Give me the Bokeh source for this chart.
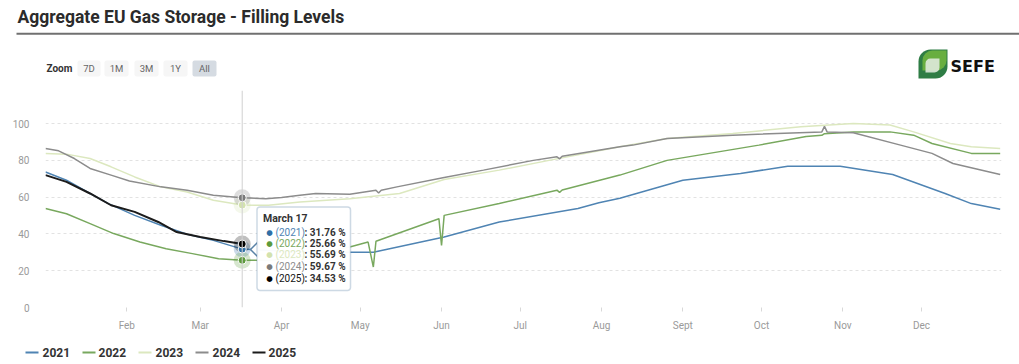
from bokeh.plotting import figure
from bokeh.layouts import column
from bokeh.models import Range1d, FixedTicker, Label, BoxAnnotation, Span
from bokeh.embed import file_html
from bokeh.resources import INLINE

# ---------------- data (day of year: 0 = Jan 1) ----------------
years = ["2021", "2022", "2023", "2024", "2025"]
line_colors = ["#4f84b3", "#78a85e", "#dce8bf", "#8c8c8c", "#1b1b1b"]
dot_colors = ["#2f6fa6", "#5c9a3c", "#d3e2ae", "#7a7a7a", "#000000"]

days_2021 = [0, 8, 17, 24, 34, 44, 54, 64, 75, 85, 97, 116, 125, 152, 173, 203,
             211, 219, 243, 265, 283, 303, 323, 343, 353, 364]
vals_2021 = [73.7, 69.2, 62.0, 56.5, 50.1, 44.7, 39.8, 36.5, 31.76, 31.0, 30.5, 30.1,
             30.1, 38.3, 46.5, 53.8, 57.0, 59.4, 69.2, 72.9, 76.8, 76.8, 72.3, 62.0,
             56.5, 53.4]

days_2022 = [0, 8, 17, 26, 36, 46, 56, 66, 75, 85, 97, 116, 123, 125, 126, 150, 151,
             152, 173, 195, 196, 197, 219, 237, 272, 290, 296, 297, 308, 322, 331, 338,
             353, 364]
vals_2022 = [53.8, 51.0, 45.6, 40.2, 35.6, 32.0, 29.3, 26.5, 25.66, 25.6, 27.5, 32.9,
             35.6, 22.0, 36.0, 48.3, 33.8, 50.1, 56.5, 63.8, 62.6, 63.9, 72.0, 80.0,
             88.3, 93.0, 93.6, 94.5, 95.5, 95.5, 93.7, 89.2, 83.8, 83.8]

days_2023 = [0, 8, 17, 25, 34, 44, 54, 64, 75, 85, 97, 116, 135, 152, 173, 192, 219,
             237, 262, 288, 308, 322, 331, 345, 353, 364]
vals_2023 = [83.7, 83.4, 81.0, 76.5, 71.0, 65.6, 62.8, 58.3, 55.69, 55.6, 57.4, 59.2,
             62.0, 69.6, 74.7, 80.0, 87.4, 91.9, 94.6, 98.3, 100.0, 99.2, 95.5, 89.2,
             87.4, 86.5]

days_2024 = [0, 5, 11, 17, 25, 32, 44, 54, 64, 75, 84, 90, 97, 103, 116, 126, 127, 128,
             134, 152, 167, 186, 195, 196, 197, 219, 224, 237, 262, 296, 297, 298, 308,
             326, 338, 346, 364]
vals_2024 = [86.5, 85.2, 81.0, 75.6, 72.0, 68.8, 65.6, 63.8, 61.0, 59.67, 59.2, 59.8,
             61.0, 62.0, 61.6, 63.8, 62.3, 63.8, 65.6, 70.7, 74.7, 80.0, 82.0, 80.8,
             82.2, 87.4, 88.3, 91.9, 93.7, 95.5, 98.5, 95.5, 95.0, 88.3, 83.8, 78.3, 72.3]

days_2025 = [0, 8, 17, 25, 34, 43, 50, 59, 68, 75]
vals_2025 = [72.0, 68.3, 62.0, 55.6, 52.0, 46.5, 41.0, 38.3, 36.1, 34.53]

series_days = [days_2021, days_2022, days_2023, days_2024, days_2025]
series_vals = [vals_2021, vals_2022, vals_2023, vals_2024, vals_2025]

month_ticks = [31, 59, 90, 120, 151, 181, 212, 243, 273, 304, 334]
month_labels = ["Feb", "Mar", "Apr", "May", "Jun", "Jul", "Aug", "Sept", "Oct", "Nov", "Dec"]
y_ticks = [0, 20, 40, 60, 80, 100]

hover_day = 75
hover_label = "March 17"
hover_values = [31.76, 25.66, 55.69, 59.67, 34.53]

title_text = "Aggregate EU Gas Storage - Filling Levels"
zoom_buttons = ["7D", "1M", "3M", "1Y", "All"]
logo_text = "SEFE"

# ---------------- layout (page pixels) ----------------
W = 1019
TOP_H = 86          # header strip: page y 0..86
MAIN_TOP, MAIN_BOT = 86, 342
L, R, T, B = 45, 1001, 90, 307   # plot frame in page pixels
X1, Y1 = 364.5, 118.0


def strip(h):
    f = figure(width=W, height=h, x_range=Range1d(0, W), y_range=Range1d(h, 0),
               output_backend="svg", toolbar_location=None, title=None,
               x_axis_location=None, y_axis_location=None, min_border=0)
    f.outline_line_color = None
    f.grid.visible = False
    f.frame_align = False
    return f


def label(f, x, y, text, size=10, color="#333333", bold=False, align="left", font="Roboto"):
    f.add_layout(Label(x=x, y=y, text=text, text_font=font,
                       text_font_size=f"{size}px", text_color=color,
                       text_font_style="bold" if bold else "normal",
                       text_align=align, text_baseline="middle"))


def box(f, x0, y0, x1, y1, color, radius=0, alpha=1.0, line_color=None, line_width=1):
    f.add_layout(BoxAnnotation(left=x0, right=x1, top=y0, bottom=y1,
                               fill_color=color, fill_alpha=alpha, line_color=line_color,
                               line_width=line_width, border_radius=radius))


# ---------------- header ----------------
top = strip(TOP_H)
label(top, 17, 16.5, title_text, size=17.5, bold=True, color="#2b2b2b")
top.line([16, W], [33.3, 33.3], line_color="#707070", line_width=2)
label(top, 46, 68, "Zoom", size=10, bold=True, color="#333333")
btn_x = [(77, 100), (104, 128), (134, 158), (163, 187), (192, 216)]
for (a, b), t in zip(btn_x, zoom_buttons):
    box(top, a, 60, b, 76, "#d5dbe2" if t == "All" else "#f6f6f6", radius=2)
    label(top, (a + b) / 2, 68, t, size=9.5, color="#666666", align="center")
box(top, 918, 49, 947, 78, "#2f7d45", radius=(12, 0, 12, 0))
box(top, 922, 50, 946, 70, "#7cbf3f", radius=(10, 0, 10, 0), alpha=0.75)
box(top, 925, 58, 939, 72, "#dfeadb", radius=(5, 0, 5, 0), alpha=0.9)
label(top, 950, 65.5, logo_text, size=16, bold=True, color="#111111", font="DejaVu Sans")

# ---------------- main chart ----------------
p = figure(width=W, height=MAIN_BOT - MAIN_TOP, x_range=Range1d(0, X1), y_range=Range1d(0, Y1),
           output_backend="svg", toolbar_location=None, title=None,
           min_border_left=L, min_border_right=W - R,
           min_border_top=T - MAIN_TOP, min_border_bottom=MAIN_BOT - B)
p.outline_line_color = None
p.frame_align = False


def dx(px):
    return (px - L) * X1 / (R - L)


def dy(py):
    return (B - py) * Y1 / (B - T)


p.yaxis.ticker = FixedTicker(ticks=y_ticks)
p.yaxis.axis_line_color = None
p.yaxis.major_tick_line_color = None
p.yaxis.minor_tick_line_color = None
p.yaxis.major_label_text_color = "#9a9a9a"
p.yaxis.major_label_text_font = "Roboto"
p.yaxis.major_label_text_font_size = "10px"
p.yaxis.major_label_standoff = 10

p.xaxis.ticker = FixedTicker(ticks=month_ticks)
p.xaxis.major_label_overrides = {t: l for t, l in zip(month_ticks, month_labels)}
p.xaxis.axis_line_color = None
p.xaxis.major_tick_line_color = "#d8d8d8"
p.xaxis.major_tick_in = 0
p.xaxis.major_tick_out = 4
p.xaxis.minor_tick_line_color = None
p.xaxis.major_label_text_color = "#9a9a9a"
p.xaxis.major_label_text_font = "Roboto"
p.xaxis.major_label_text_font_size = "10px"
p.xaxis.major_label_standoff = 8

p.xgrid.visible = False
p.ygrid.grid_line_color = "#e2e2e2"
p.ygrid.grid_line_dash = "3 3"

p.add_layout(Span(location=hover_day, dimension="height", line_color="#d0d0d0", line_width=1))

for i, (d, v) in enumerate(zip(series_days, series_vals)):
    p.line(d, v, line_color=line_colors[i], line_width=2.0 if i == 4 else 1.5)

for i, v in enumerate(hover_values):
    p.scatter([hover_day], [v], size=17, fill_color=dot_colors[i], fill_alpha=0.25, line_color=None)
for i, v in enumerate(hover_values):
    p.scatter([hover_day], [v], size=8, fill_color=dot_colors[i], line_color="white", line_width=1)

# tooltip
p.patch([dx(258), dx(250), dx(258)], [dy(241), dy(249), dy(257)], fill_color="white",
        line_color="#5a82a6", line_width=1.5)
box(p, dx(256.5), dy(206.5), dx(350), dy(290), "white", radius=3, alpha=0.97,
    line_color="#5a82a6", line_width=1.5)
label(p, dx(262.5), dy(218.3), hover_label, size=10.5, bold=True)
row_y = [231.7, 242.9, 254.3, 266, 277.7]
for i, yr in enumerate(years):
    label(p, dx(269), dy(row_y[i]), "\u25cf", size=7.5, color=dot_colors[i], align="center",
          font="DejaVu Sans")
    label(p, dx(275), dy(row_y[i]), f"({yr})", size=10,
          color=line_colors[i] if i != 4 else "#111111")
    label(p, dx(304), dy(row_y[i]), f": {hover_values[i]:.2f} %", size=10, bold=True,
          color="#333333")

# ---------------- legend strip ----------------
bot = strip(364 - MAIN_BOT)
leg_x = [(25, 38, 42), (82, 95, 98), (138, 151, 155), (195, 208, 212), (252, 265, 268)]
for i, (a, b, tx) in enumerate(leg_x):
    bot.line([a, b], [10, 10], line_color=line_colors[i], line_width=2)
    label(bot, tx, 10, years[i], size=12, bold=True, color="#333333")

layout = column(top, p, bot, spacing=0)
open("out.html", "w").write(file_html(layout, INLINE))
